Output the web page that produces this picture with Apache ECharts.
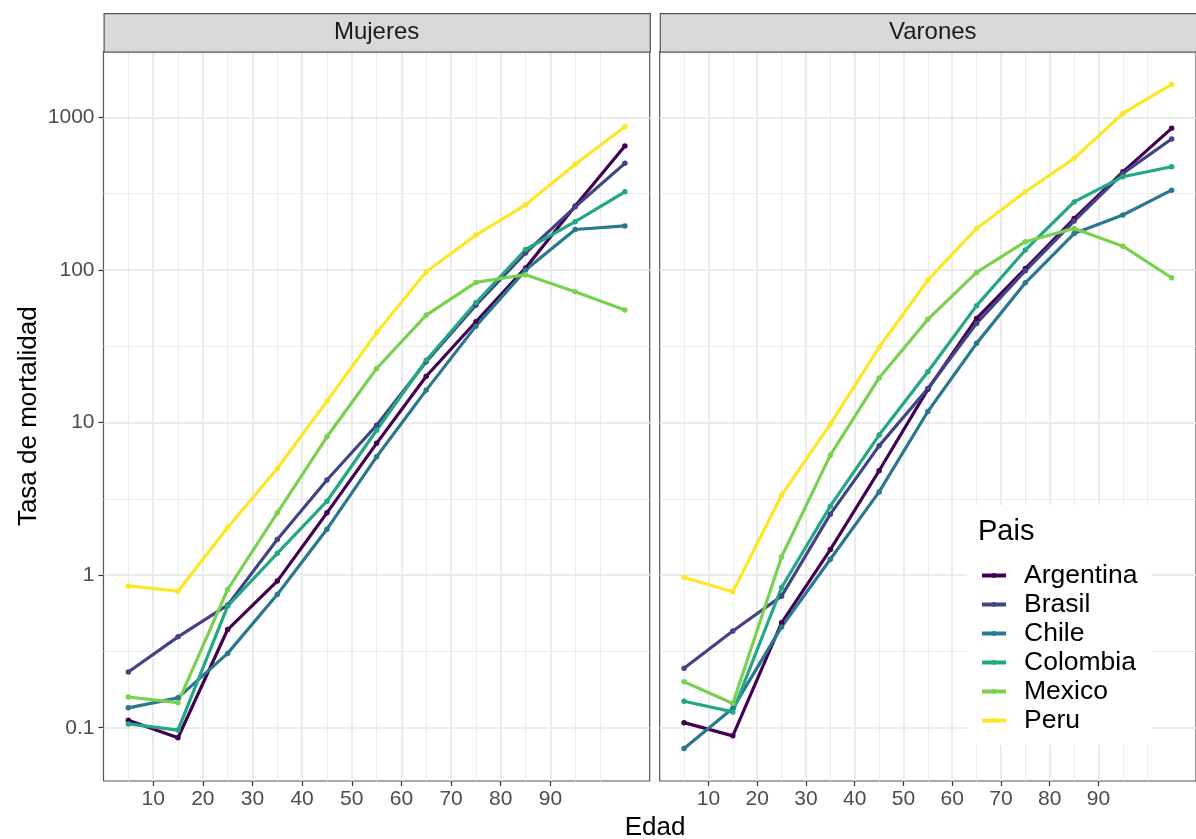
<!DOCTYPE html>
<html><head><meta charset="utf-8">
<script src="https://cdn.jsdelivr.net/npm/echarts@6/dist/echarts.min.js"></script>
<style>html,body{margin:0;padding:0;background:#fff}#c{width:1196px;height:839px}</style>
</head><body><div id="c"></div>
<script>
// ---- data ----
const ages = [5, 15, 25, 35, 45, 55, 65, 75, 85, 95, 105];
const paises = ['Argentina', 'Brasil', 'Chile', 'Colombia', 'Mexico', 'Peru'];
const colores = ['#440154', '#414487', '#2A788E', '#22A884', '#7AD151', '#FDE725'];
const paneles = ['Mujeres', 'Varones'];

const mujeresArgentina = [0.112, 0.086, 0.44, 0.914, 2.56, 7.3, 20.1, 45.7, 103, 262, 648];
const mujeresBrasil    = [0.232, 0.394, 0.636, 1.71, 4.2, 9.6, 25, 58.7, 129, 259, 499];
const mujeresChile     = [0.135, 0.157, 0.307, 0.747, 2.0, 5.96, 16.3, 42.8, 99.7, 184, 194];
const mujeresColombia  = [0.106, 0.0965, 0.627, 1.39, 3.05, 8.9, 25.6, 60.9, 136, 207, 325];
const mujeresMexico    = [0.159, 0.146, 0.805, 2.56, 8.06, 22.6, 50.6, 82.8, 93, 71.9, 54.5];
const mujeresPeru      = [0.85, 0.785, 2.05, 5.0, 13.8, 38.7, 97.2, 169, 267, 493, 867];

const varonesArgentina = [0.108, 0.0885, 0.487, 1.47, 4.83, 16.5, 48.1, 102, 217, 439, 846];
const varonesBrasil    = [0.245, 0.43, 0.728, 2.51, 7.03, 16.7, 44.6, 98.7, 209, 429, 720];
const varonesChile     = [0.073, 0.134, 0.458, 1.27, 3.51, 11.8, 33, 82.3, 173, 229, 333];
const varonesColombia  = [0.149, 0.127, 0.83, 2.83, 8.27, 21.5, 58.3, 135, 279, 408, 474];
const varonesMexico    = [0.2, 0.144, 1.32, 6.11, 19.6, 47.4, 96.3, 153, 187, 143, 88.8];
const varonesPeru      = [0.966, 0.778, 3.34, 9.77, 31.1, 85.7, 187, 325, 538, 1060, 1643];

const xTicks = [10, 20, 30, 40, 50, 60, 70, 80, 90];
const xMinor = [5, 15, 25, 35, 45, 55, 65, 75, 85, 95, 100];
const yTicks = [0.1, 1, 10, 100, 1000];
const yMinor = [0.3162, 3.162, 31.62, 316.2];

// ---- chart ----
const FONT = '"Liberation Sans", Arial, sans-serif';
const mujeres = [mujeresArgentina, mujeresBrasil, mujeresChile, mujeresColombia, mujeresMexico, mujeresPeru];
const varones = [varonesArgentina, varonesBrasil, varonesChile, varonesColombia, varonesMexico, varonesPeru];

const X_MIN = 0, X_MAX = 110;
const Y_MIN = Math.pow(10, -1.349), Y_MAX = Math.pow(10, 3.431);
const GRID_TOP = 51.5, GRID_H = 729.5, GRID_W = 546.2;
const lefts = [103.5, 659.7];

const grids = lefts.map(l => ({left: l, top: GRID_TOP, width: GRID_W, height: GRID_H,
  show: true, borderColor: '#555', borderWidth: 1.2, backgroundColor: 'transparent'}));

const xAxes = [], yAxes = [];
[0, 1].forEach(g => {
  xAxes.push({type: 'value', gridIndex: g, min: X_MIN, max: X_MAX,
    axisLine: {show: false},
    axisTick: {show: true, customValues: xTicks, length: 5, lineStyle: {color: '#333', width: 1.2}},
    axisLabel: {customValues: xTicks, color: '#4d4d4d', fontSize: 21, fontFamily: FONT, margin: 8},
    splitLine: {show: true, lineStyle: {color: '#ebebeb', width: 2}}
  });
  yAxes.push({type: 'log', logBase: 10, gridIndex: g, min: Y_MIN, max: Y_MAX,
    axisLine: {show: false},
    axisTick: {show: g === 0, customValues: yTicks, length: 5, lineStyle: {color: '#333', width: 1.2}},
    axisLabel: {show: g === 0, customValues: yTicks, color: '#4d4d4d', fontSize: 21, fontFamily: FONT, margin: 9,
      formatter: v => String(v)},
    splitLine: {show: true, lineStyle: {color: '#ebebeb', width: 2}},
    name: g === 0 ? 'Tasa de mortalidad' : '', nameLocation: 'middle', nameGap: 62,
    nameTextStyle: {fontSize: 26, fontFamily: FONT, color: '#000'}
  });
});
// minor grid helper axes
[0, 1].forEach(g => {
  xAxes.push({type: 'value', gridIndex: g, min: X_MIN, max: X_MAX,
    axisLine: {show: false}, axisTick: {show: false, customValues: xMinor},
    axisLabel: {show: false, customValues: xMinor},
    splitLine: {show: true, lineStyle: {color: '#ebebeb', width: 1}}});
  yAxes.push({type: 'log', logBase: 10, gridIndex: g, min: Y_MIN, max: Y_MAX,
    axisLine: {show: false}, axisTick: {show: false, customValues: yMinor},
    axisLabel: {show: false, customValues: yMinor},
    splitLine: {show: true, lineStyle: {color: '#ebebeb', width: 1}}});
});

const series = [];
[mujeres, varones].forEach((panel, g) => {
  panel.forEach((vals, i) => {
    series.push({
      name: paises[i], type: 'line', xAxisIndex: g, yAxisIndex: g,
      data: ages.map((a, k) => [a, vals[k]]),
      symbol: 'circle', symbolSize: 5.5, showSymbol: true,
      color: colores[i],
      lineStyle: {width: 3.2, color: colores[i]},
      itemStyle: {color: colores[i]},
      z: 3
    });
  });
});

const graphics = [];
lefts.forEach((l, g) => {
  graphics.push({type: 'rect', left: l, top: 13, z: 50,
    shape: {width: GRID_W, height: GRID_TOP - 13},
    style: {fill: '#d9d9d9', stroke: '#555', lineWidth: 1.2}});
  graphics.push({type: 'text', x: l + GRID_W / 2, y: (13 + GRID_TOP) / 2, z: 51,
    style: {text: paneles[g], fill: '#1a1a1a', font: '24px ' + FONT, align: 'center', verticalAlign: 'middle'}});
});
graphics.push({type: 'text', x: 655, y: 828, z: 51,
  style: {text: 'Edad', fill: '#000', font: '26px ' + FONT, align: 'center', verticalAlign: 'middle'}});
graphics.push({type: 'text', x: 978, y: 532, z: 100,
  style: {text: 'Pais', fill: '#000', font: '29px ' + FONT, align: 'left', verticalAlign: 'middle'}});

const chart = echarts.init(document.getElementById('c'), null, {renderer: 'canvas'});
chart.setOption({
  animation: false,
  backgroundColor: '#fff',
  grid: grids,
  xAxis: xAxes,
  yAxis: yAxes,
  series: series,
  legend: {
    data: paises, orient: 'vertical', left: 967, top: 505,
    padding: [56, 14, 10, 13], backgroundColor: '#fff', itemGap: 0,
    itemWidth: 24, itemHeight: 6, selectedMode: false, z: 20,
    lineStyle: {width: 4},
    textStyle: {fontSize: 26.5, fontFamily: FONT, color: '#000', lineHeight: 29, padding: [0, 0, 0, 13]}
  },
  graphic: graphics
});
</script>
</body></html>
